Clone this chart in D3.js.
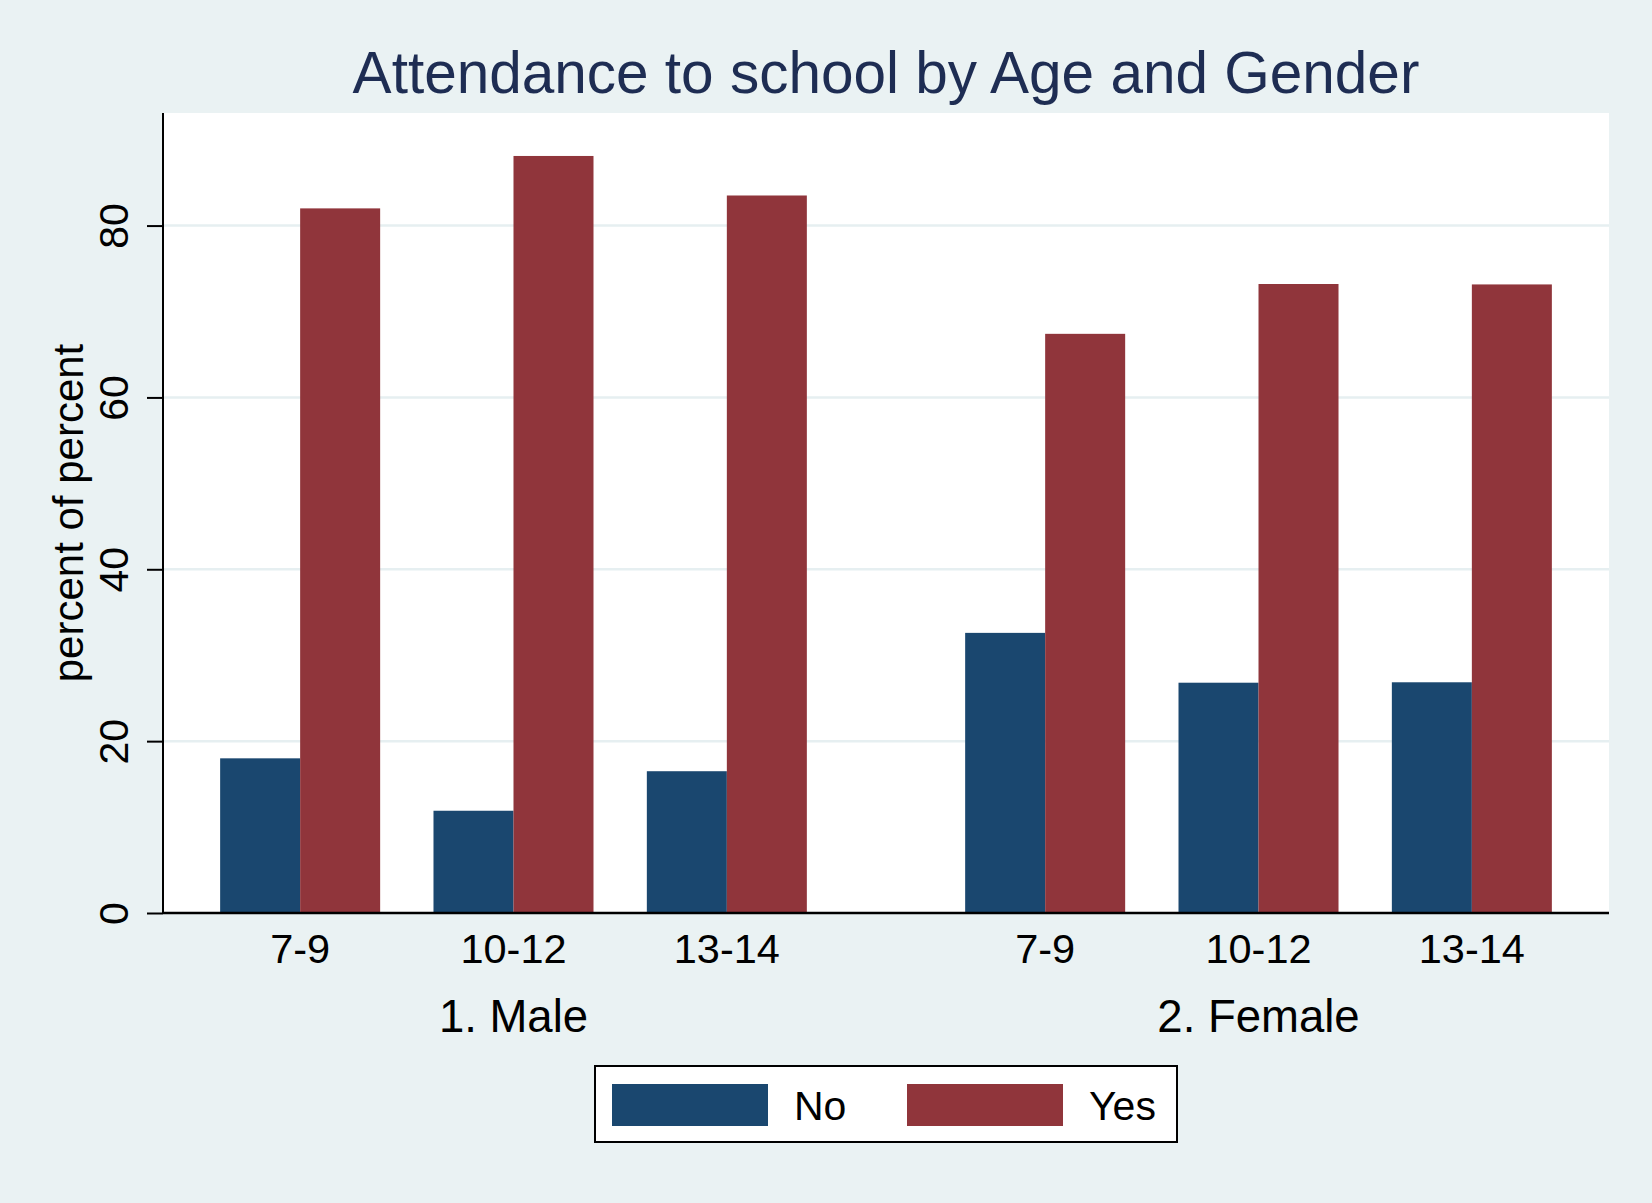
<!DOCTYPE html>
<html>
<head>
<meta charset="utf-8">
<script src="https://cdn.jsdelivr.net/npm/d3@7"></script>
<style>
  html, body { margin: 0; padding: 0; background: #eaf2f3; }
  svg { display: block; }
  text { font-family: "Liberation Sans", Arial, Helvetica, sans-serif; }
</style>
</head>
<body>
<script>
// ---- data ----
const genders = ["1. Male", "2. Female"];
const ages = ["7-9", "10-12", "13-14"];
const seriesNames = ["No", "Yes"];
const noValues = [18.0, 11.9, 16.5, 32.6, 26.8, 26.85];   // Male 7-9, 10-12, 13-14, Female 7-9, 10-12, 13-14
const yesValues = [82.0, 88.1, 83.5, 67.4, 73.2, 73.15];
const yTicks = [0, 20, 40, 60, 80];
const seriesColors = ["#1a476f", "#90353b"];
const titleText = "Attendance to school by Age and Gender";
const yTitle = "percent of percent";

// ---- layout ----
const W = 1652, H = 1203;
const plot = { left: 163, right: 1609, top: 113, bottom: 913 };

const svg = d3.select("body").append("svg").attr("width", W).attr("height", H);
svg.append("rect").attr("width", W).attr("height", H).attr("fill", "#eaf2f3");

// plot region
svg.append("rect")
  .attr("x", plot.left).attr("y", plot.top)
  .attr("width", plot.right - plot.left).attr("height", plot.bottom - plot.top)
  .attr("fill", "#ffffff");

// scales
const y = d3.scaleLinear().domain([0, 93.1]).range([plot.bottom, plot.top]);
const xGender = d3.scaleBand().domain(genders).range([plot.left, plot.right])
  .paddingInner(0.1409).paddingOuter(0.0409);
const xAge = d3.scaleBand().domain(ages).range([0, xGender.bandwidth()])
  .paddingInner(0.25).paddingOuter(0.125);
const xSeries = d3.scaleBand().domain(seriesNames).range([0, xAge.bandwidth()]).padding(0);
const color = d3.scaleOrdinal().domain(seriesNames).range(seriesColors);

// gridlines
svg.append("g").selectAll("line").data(yTicks.filter(d => d > 0)).join("line")
  .attr("x1", plot.left).attr("x2", plot.right)
  .attr("y1", d => y(d)).attr("y2", d => y(d))
  .attr("stroke", "#e6eff1").attr("stroke-width", 2.5);

// build records
const records = [];
genders.forEach((g, gi) => {
  ages.forEach((a, ai) => {
    const idx = gi * ages.length + ai;
    records.push({ gender: g, age: a, series: "No", value: noValues[idx] });
    records.push({ gender: g, age: a, series: "Yes", value: yesValues[idx] });
  });
});

const bx = d => xGender(d.gender) + xAge(d.age) + xSeries(d.series);

svg.append("g").selectAll("rect").data(records).join("rect")
  .attr("x", d => bx(d))
  .attr("y", d => y(d.value))
  .attr("width", xSeries.bandwidth())
  .attr("height", d => y(0) - y(d.value))
  .attr("fill", d => color(d.series));

// y axis
const yAxis = d3.axisLeft(y).tickValues(yTicks).tickSize(16).tickFormat(d3.format("d"));
const ya = svg.append("g").attr("transform", `translate(${plot.left},0)`).call(yAxis);
ya.select(".domain").remove();
ya.selectAll(".tick line").attr("stroke", "#000").attr("stroke-width", 2);
ya.selectAll(".tick text")
  .attr("x", 0).attr("y", 0).attr("dy", 0)
  .attr("transform", "translate(-35,0) rotate(-90)")
  .attr("text-anchor", "middle")
  .attr("fill", "#000")
  .style("font-size", "41px");
svg.append("line")
  .attr("x1", plot.left).attr("x2", plot.left)
  .attr("y1", plot.top).attr("y2", plot.bottom + 1)
  .attr("stroke", "#000").attr("stroke-width", 2);

// x axis line
svg.append("line")
  .attr("x1", plot.left).attr("x2", plot.right)
  .attr("y1", plot.bottom).attr("y2", plot.bottom)
  .attr("stroke", "#000").attr("stroke-width", 2.5);

// age labels
const ageLabels = [];
genders.forEach(g => ages.forEach(a => ageLabels.push({ gender: g, age: a })));
svg.append("g").selectAll("text").data(ageLabels).join("text")
  .attr("x", d => xGender(d.gender) + xAge(d.age) + xAge.bandwidth() / 2)
  .attr("y", 963)
  .attr("text-anchor", "middle")
  .style("font-size", "41.5px")
  .attr("fill", "#000")
  .text(d => d.age);

// gender labels
svg.append("g").selectAll("text").data(genders).join("text")
  .attr("x", d => xGender(d) + xGender.bandwidth() / 2)
  .attr("y", 1032)
  .attr("text-anchor", "middle")
  .style("font-size", "45.5px")
  .attr("fill", "#000")
  .text(d => d);

// y title
svg.append("text")
  .attr("transform", `translate(83,${(plot.top + plot.bottom) / 2}) rotate(-90)`)
  .attr("text-anchor", "middle")
  .style("font-size", "42px")
  .attr("fill", "#000")
  .text(yTitle);

// title
svg.append("text")
  .attr("x", (plot.left + plot.right) / 2)
  .attr("y", 93)
  .attr("text-anchor", "middle")
  .style("font-size", "58.5px")
  .attr("fill", "#1e2d53")
  .text(titleText);

// legend
const lg = svg.append("g");
lg.append("rect").attr("x", 595).attr("y", 1066).attr("width", 582).attr("height", 76)
  .attr("fill", "#fff").attr("stroke", "#000").attr("stroke-width", 2);
const legendX = [612, 907];
seriesNames.forEach((s, i) => {
  lg.append("rect").attr("x", legendX[i]).attr("y", 1084).attr("width", 156).attr("height", 42)
    .attr("fill", color(s));
  lg.append("text").attr("x", legendX[i] + 182).attr("y", 1120)
    .style("font-size", "41px").attr("fill", "#000").text(s);
});
</script>
</body>
</html>
